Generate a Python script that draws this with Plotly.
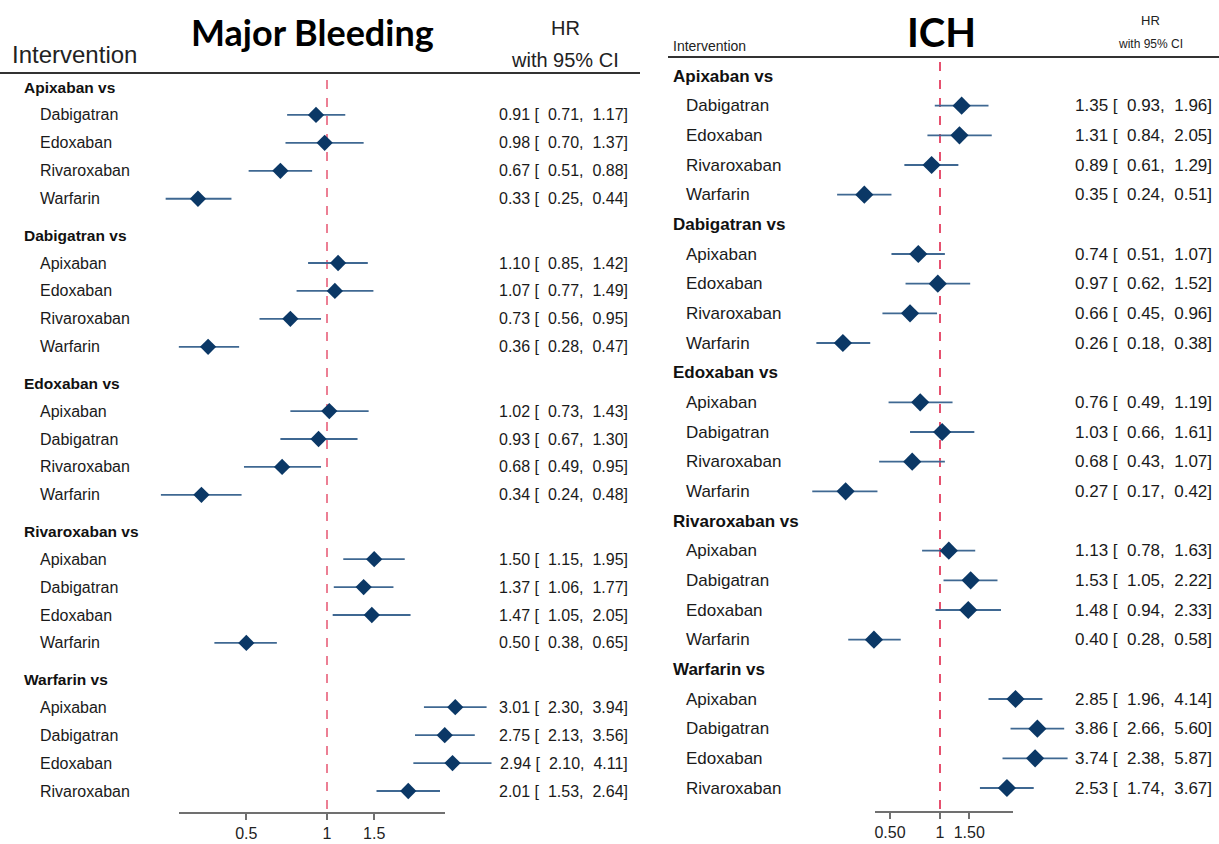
import numpy as np
import plotly.graph_objects as go

# ---------------- data ----------------
sections = ["Apixaban vs", "Dabigatran vs", "Edoxaban vs", "Rivaroxaban vs", "Warfarin vs"]
comparators = [
    ["Dabigatran", "Edoxaban", "Rivaroxaban", "Warfarin"],
    ["Apixaban", "Edoxaban", "Rivaroxaban", "Warfarin"],
    ["Apixaban", "Dabigatran", "Rivaroxaban", "Warfarin"],
    ["Apixaban", "Dabigatran", "Edoxaban", "Warfarin"],
    ["Apixaban", "Dabigatran", "Edoxaban", "Rivaroxaban"],
]

mb_hr = [0.91, 0.98, 0.67, 0.33, 1.10, 1.07, 0.73, 0.36, 1.02, 0.93, 0.68, 0.34,
         1.50, 1.37, 1.47, 0.50, 3.01, 2.75, 2.94, 2.01]
mb_lo = [0.71, 0.70, 0.51, 0.25, 0.85, 0.77, 0.56, 0.28, 0.73, 0.67, 0.49, 0.24,
         1.15, 1.06, 1.05, 0.38, 2.30, 2.13, 2.10, 1.53]
mb_hi = [1.17, 1.37, 0.88, 0.44, 1.42, 1.49, 0.95, 0.47, 1.43, 1.30, 0.95, 0.48,
         1.95, 1.77, 2.05, 0.65, 3.94, 3.56, 4.11, 2.64]

ich_hr = [1.35, 1.31, 0.89, 0.35, 0.74, 0.97, 0.66, 0.26, 0.76, 1.03, 0.68, 0.27,
          1.13, 1.53, 1.48, 0.40, 2.85, 3.86, 3.74, 2.53]
ich_lo = [0.93, 0.84, 0.61, 0.24, 0.51, 0.62, 0.45, 0.18, 0.49, 0.66, 0.43, 0.17,
          0.78, 1.05, 0.94, 0.28, 1.96, 2.66, 2.38, 1.74]
ich_hi = [1.96, 2.05, 1.29, 0.51, 1.07, 1.52, 0.96, 0.38, 1.19, 1.61, 1.07, 0.42,
          1.63, 2.22, 2.33, 0.58, 4.14, 5.60, 5.87, 3.67]

mb_ticks = [0.5, 1, 1.5]
mb_ticktext = ["0.5", "1", "1.5"]
ich_ticks = [0.5, 1, 1.5]
ich_ticktext = ["0.50", "1", "1.50"]
null_hr = 1

# ---------------- layout constants ----------------
W, H = 1219, 844
FONT = "Liberation Sans, Arial, sans-serif"
TITLE_FONT = "Lato, Open Sans, sans-serif"
DIAMOND = "#0b3866"
CI_COLOR = "#3f6892"
AXIS_COLOR = "#707070"

panels = [
    dict(name="Major Bleeding", hr=mb_hr, lo=mb_lo, hi=mb_hi, ticks=mb_ticks, ticktext=mb_ticktext,
         xa="x", ya="y", xkey="xaxis", ykey="yaxis",
         center_px=327, ppd=268, dom_px=(120, 505), first_px=87, last_px=791, gap=1.3,
         axis_px=813, axis_span_px=(179, 445), ref_top_px=80, ref_color="#e8607a",
         header_x=22, label_x=38, text_right=630, label_size=16, header_size=15.5, text_size=16,
         marker_size=12.5, tick_size=16,
         title_x=312, title_y=32, title_size=36,
         interv=dict(x=10, y=55, size=24), hr_lbl=dict(x=565, y=28, size=20), ci_lbl=dict(x=565, y=60, size=20),
         rule=dict(x0=0, x1=640, y=73)),
    dict(name="ICH", hr=ich_hr, lo=ich_lo, hi=ich_hi, ticks=ich_ticks, ticktext=ich_ticktext,
         xa="x2", ya="y2", xkey="xaxis2", ykey="yaxis2",
         center_px=940, ppd=166, dom_px=(790, 1072), first_px=76, last_px=788, gap=1.0,
         axis_px=812, axis_span_px=(875, 1013), ref_top_px=62, ref_color="#e0264c",
         header_x=671, label_x=684, text_right=1214, label_size=17, header_size=17, text_size=17,
         marker_size=14, tick_size=16,
         title_x=941, title_y=32, title_size=40,
         interv=dict(x=671, y=46, size=14), hr_lbl=dict(x=1150, y=20, size=13), ci_lbl=dict(x=1150, y=44, size=12),
         rule=dict(x0=668, x1=1219, y=57)),
]


def row_units(gap):
    headers, rows = [], []
    cur = 0.0
    for s in range(len(sections)):
        headers.append(cur)
        for i in range(len(comparators[s])):
            rows.append(cur + 1 + i)
        cur = rows[-1] + gap
    return headers, rows


fig = go.Figure()
annotations = []
shapes = []

for p in panels:
    headers, rows = row_units(p["gap"])
    ppu = (p["last_px"] - p["first_px"]) / rows[-1]

    def u(px, p=p, ppu=ppu):
        return (px - p["first_px"]) / ppu

    def xval(px, p=p):
        return 10 ** ((px - p["center_px"]) / p["ppd"])

    hr = np.array(p["hr"])
    lo = np.array(p["lo"])
    hi = np.array(p["hi"])

    # reference (null) line
    fig.add_trace(go.Scatter(x=[null_hr, null_hr], y=[u(p["ref_top_px"]), u(p["axis_px"] - 3)],
                             mode="lines", line=dict(color=p["ref_color"], width=1.6, dash="dash"),
                             xaxis=p["xa"], yaxis=p["ya"], hoverinfo="skip", showlegend=False))
    # axis baseline
    fig.add_trace(go.Scatter(x=[xval(p["axis_span_px"][0]), xval(p["axis_span_px"][1])],
                             y=[u(p["axis_px"]), u(p["axis_px"])],
                             mode="lines", line=dict(color=AXIS_COLOR, width=2),
                             xaxis=p["xa"], yaxis=p["ya"], hoverinfo="skip", showlegend=False))
    # estimates with CIs
    fig.add_trace(go.Scatter(x=hr, y=rows, mode="markers",
                             marker=dict(symbol="diamond", size=p["marker_size"], color=DIAMOND,
                                         line=dict(width=0)),
                             error_x=dict(type="data", symmetric=False, array=hi - hr, arrayminus=hr - lo,
                                          color=CI_COLOR, thickness=1.8, width=0),
                             xaxis=p["xa"], yaxis=p["ya"], showlegend=False))

    d0, d1 = p["dom_px"]
    fig.layout[p["xkey"]] = dict(
        type="log", domain=[d0 / W, d1 / W],
        range=[(d0 - p["center_px"]) / p["ppd"], (d1 - p["center_px"]) / p["ppd"]],
        anchor="free", position=1 - p["axis_px"] / H,
        tickvals=p["ticks"], ticktext=p["ticktext"], ticks="outside", ticklen=6, tickwidth=1.5,
        tickcolor=AXIS_COLOR, showgrid=False, zeroline=False, showline=False,
        tickfont=dict(family=FONT, size=p["tick_size"], color="#222"),
    )
    fig.layout[p["ykey"]] = dict(
        domain=[0, 1], range=[(H - p["first_px"]) / ppu, -p["first_px"] / ppu],
        visible=False, anchor=p["xa"],
    )

    # section headers
    for s, name in enumerate(sections):
        annotations.append(dict(x=p["header_x"] / W, xref="paper", y=headers[s], yref=p["ya"],
                                text=f"<b>{name}</b>", showarrow=False, xanchor="left", yanchor="middle",
                                font=dict(family=FONT, size=p["header_size"], color="#111")))
    # row labels and HR text
    k = 0
    for s in range(len(sections)):
        for comp in comparators[s]:
            annotations.append(dict(x=p["label_x"] / W, xref="paper", y=rows[k], yref=p["ya"],
                                    text=comp, showarrow=False, xanchor="left", yanchor="middle",
                                    font=dict(family=FONT, size=p["label_size"], color="#1a1a1a")))
            txt = f"{hr[k]:.2f} [ {lo[k]:5.2f}, {hi[k]:5.2f}]".replace(" ", "\u00a0")
            annotations.append(dict(x=p["text_right"] / W, xref="paper", y=rows[k], yref=p["ya"],
                                    text=txt, showarrow=False, xanchor="right", yanchor="middle",
                                    font=dict(family=FONT, size=p["text_size"], color="#1a1a1a")))
            k += 1

    # titles and column headers
    annotations.append(dict(x=p["title_x"] / W, y=1 - p["title_y"] / H, xref="paper", yref="paper",
                            text=f"<b>{p['name']}</b>", showarrow=False, xanchor="center", yanchor="middle",
                            font=dict(family=TITLE_FONT, size=p["title_size"], color="#000")))
    annotations.append(dict(x=p["interv"]["x"] / W, y=1 - p["interv"]["y"] / H, xref="paper", yref="paper",
                            text="Intervention", showarrow=False, xanchor="left", yanchor="middle",
                            font=dict(family=FONT, size=p["interv"]["size"], color="#222")))
    annotations.append(dict(x=p["hr_lbl"]["x"] / W, y=1 - p["hr_lbl"]["y"] / H, xref="paper", yref="paper",
                            text="HR", showarrow=False, xanchor="center", yanchor="middle",
                            font=dict(family=FONT, size=p["hr_lbl"]["size"], color="#222")))
    annotations.append(dict(x=p["ci_lbl"]["x"] / W, y=1 - p["ci_lbl"]["y"] / H, xref="paper", yref="paper",
                            text="with 95% CI", showarrow=False, xanchor="center", yanchor="middle",
                            font=dict(family=FONT, size=p["ci_lbl"]["size"], color="#222")))
    r = p["rule"]
    shapes.append(dict(type="line", xref="paper", yref="paper", x0=r["x0"] / W, x1=r["x1"] / W,
                       y0=1 - r["y"] / H, y1=1 - r["y"] / H, line=dict(color="#333", width=2)))

fig.update_layout(
    width=W, height=H, margin=dict(l=0, r=0, t=0, b=0),
    paper_bgcolor="white", plot_bgcolor="white",
    annotations=annotations, shapes=shapes, showlegend=False,
)

fig.write_html(
    "out.html",
    config={"displayModeBar": False},
    post_script="document.body.style.margin='0';document.body.style.overflow='hidden';",
)
